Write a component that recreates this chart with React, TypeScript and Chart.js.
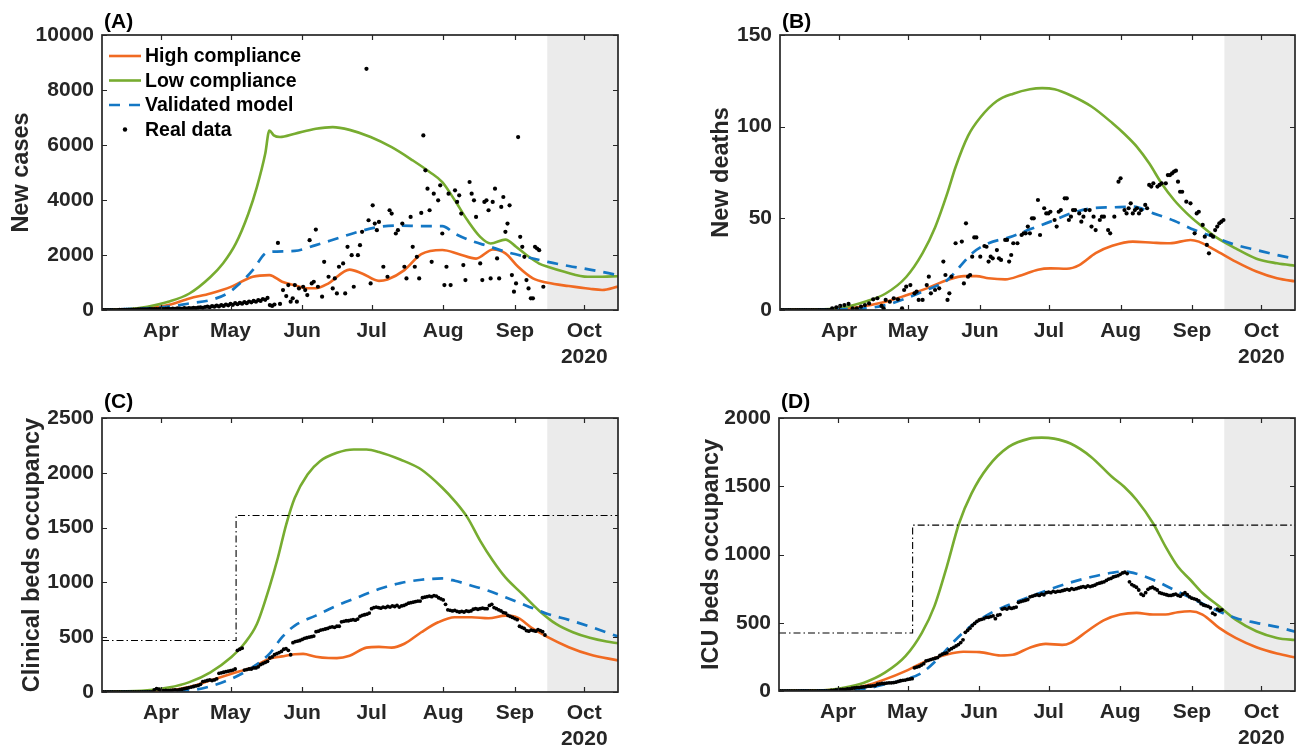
import React, { useEffect, useRef } from 'react';
import { Chart, registerables } from 'chart.js';

Chart.register(...registerables);

type Pair = [number, number];

// ---------------- shared axis data (x = days since 1 Mar 2020) ----------------
const xMinDay = 5.4;
const xMaxDay = 228.6;
const forecastStartDay = 198;
const monthTickDays = [31, 61, 92, 122, 153, 184, 214];
const monthTickLabels = ['Apr', 'May', 'Jun', 'Jul', 'Aug', 'Sep', 'Oct'];
const yearLabel = '2020';
const seriesNames = ['High compliance', 'Low compliance', 'Validated model', 'Real data'];
const panelLetters = ['(A)', '(B)', '(C)', '(D)'];
const yTitles = ['New cases', 'New deaths', 'Clinical beds occupancy', 'ICU beds occupancy'];
const yMaxima = [10000, 150, 2500, 2000];
const ySteps = [2000, 50, 500, 500];
const realDailyStartDay = 5;

// ---------------- (A) new cases ----------------
const casesHigh: Pair[] = [[5.5,0],[25,60],[34.1,180],[43.2,420],[52.3,600],[61.4,850],[70.6,1210],[77.8,1270],[83.3,1030],[88.8,900],[94.3,790],[97.9,790],[103.4,970],[112.5,1470],[117.9,1330],[125.2,1060],[128.9,1110],[136.2,1450],[143.5,2030],[152.6,2180],[159.9,2030],[167.2,1870],[174.5,2200],[179.9,2060],[185.4,1570],[191.8,1150],[198.2,990],[207.3,870],[216.4,770],[221.8,730],[228.6,850]];
const casesLow: Pair[] = [[5.5,0],[15.9,25],[25,120],[34.1,300],[43.2,600],[52.3,1200],[57.8,1700],[63.3,2420],[68.7,3500],[72.4,4470],[76,5680],[77.8,6530],[79.7,6350],[82.4,6290],[88.8,6410],[97.9,6590],[105.2,6650],[112.5,6550],[121.6,6290],[130.7,5920],[139.8,5440],[147.1,5020],[152.6,4650],[158,3990],[163.5,3260],[169,2660],[173.5,2420],[179.9,2560],[184.5,2300],[189,2000],[194.5,1690],[198.2,1570],[205.4,1390],[215.5,1210],[221.8,1210],[228.6,1230]];
const casesModel: Pair[] = [[5.5,0],[34.1,120],[43.2,240],[52.3,360],[59.6,600],[65.1,970],[70.6,1450],[76,2060],[78.8,2120],[88.8,2150],[97.9,2360],[107,2600],[116.1,2840],[125.2,3020],[134.4,3070],[143.5,3050],[152.6,3050],[158,2780],[165.3,2510],[172.6,2320],[179.9,2120],[189,1930],[198.2,1750],[207.3,1600],[216.4,1470],[228.6,1270]];
const casesRealEarly: number[] = [0,0,0,0,0,0,0,0,5,5,5,10,10,10,15,15,20,20,20,25,25,30,30,30,35,35,
  40,30,45,50,35,55,40,60,50,45,65,55,70,60,80,70,90,100,80,110,120,
  100,140,120,160,130,180,150,200,170,220,190,250,210,260,230,290,250,310,280,330,300,360,330,400,370,440,
  180,150,200];
const casesRealLate: Pair[] = [[81.5,2440],[82.4,220],[83.7,725],[85.1,508],[86,906],[87,302],[87.9,423],[88.8,906],[89.7,302],[90.6,786],[92.4,846],[93.3,725],[94.2,544],[95.2,2540],[96.1,967],[97,1028],[97.9,2926],[98.8,846],[100.6,484],[101.5,1753],[103.4,1209],[105.2,786],[106.1,1149],[107,604],[107.9,1572],[109.7,1693],[110.6,604],[111.6,2297],[113.4,1995],[114.3,846],[116.1,1995],[117,2358],[117.9,2842],[119.8,8770],[120.7,3264],[121.6,967],[122.5,3808],[123.4,3143],[124.3,2902],[125.2,3203],[127.1,1572],[128.9,1209],[129.8,3627],[130.7,3506],[132.5,2781],[133.4,2902],[135.3,3143],[136.2,1572],[137.1,1149],[138.9,3385],[139.8,2297],[140.7,1572],[141.6,1935],[142.6,1149],[143.5,3530],[144.4,6350],[145.3,5078],[146.2,4412],[147.1,3627],[148,1753],[148.9,4231],[150.8,3990],[151.7,4533],[152.6,2781],[153.5,907],[154.4,1572],[155.3,4231],[156.2,907],[158.1,4352],[159,3929],[159.9,4170],[160.8,3506],[161.7,1632],[162.6,1088],[164.4,4654],[165.3,4231],[166.3,3990],[167.2,3385],[169,1693],[169.9,1088],[170.8,3929],[171.7,3990],[172.6,3627],[173.5,1149],[174.4,3929],[175.4,4412],[176.3,1874],[177.2,1149],[178.1,3748],[179,4110],[179.9,2842],[180.8,3143],[181.7,3808],[182.7,1270],[183.6,665],[184.5,967],[185.4,6290],[186.3,2660],[187.2,2297],[188.1,1935],[189,1088],[189.9,786],[190.9,423],[191.8,423],[192.7,2297],[193.6,2237],[194.5,2176],[196.3,846]];

// ---------------- (B) new deaths ----------------
const deathsHigh: Pair[] = [[5.3,0],[33.3,0.7],[42.2,2.2],[51.2,4.5],[60.1,8],[69,11.8],[78,16.4],[85.1,18.5],[90.5,18.5],[95.8,17.3],[103,16.7],[110.1,19],[117.2,22],[122.6,22.7],[129.7,22.5],[135.1,24.5],[142.2,31],[149.4,35],[158.3,37.3],[167.2,36.7],[174.4,36.4],[183.3,38.2],[186.9,37.3],[194,32.7],[202.9,26.4],[211.9,21],[220.8,17.3],[229.4,15.5]];
const deathsLow: Pair[] = [[5.3,0],[24.4,0.4],[33.3,1.5],[42.2,4.5],[51.2,9],[60.1,18],[67.2,31],[72.6,45],[78,64],[81.5,78],[86.9,95],[92.2,105],[99.4,114],[106.5,118],[113.7,120.4],[119,121],[124.4,120.4],[131.5,117],[140.4,111],[149.4,102],[154.7,96],[160.1,89],[165.4,80],[170.8,69],[176.2,60],[181.5,53],[186.9,47],[194,40],[202.9,33.6],[211.9,28],[220.8,25.5],[229.4,24]];
const deathsModel: Pair[] = [[5.3,0],[42.2,0.9],[51.2,2.7],[60.1,6.4],[69,11],[78,16.4],[83.3,23.6],[88.7,31],[95.8,36.4],[104.7,39.6],[113.7,44],[122.6,48.2],[131.5,52.7],[140.4,55.5],[149.4,56],[158.3,56.4],[167.2,52.7],[176.2,48.7],[185.1,43.6],[194,39.6],[202.9,35.5],[211.9,32.7],[220.8,30],[229.4,27.8]];
const deathsRealEarly: number[] = [0,0,0,0,0,0,0,0,0,0,0,0,0,0,0,0,0,0,0,0,0,0,0];
const deathsRealLate: Pair[] = [[28,0.9],[29.8,1.5],[31.5,2.2],[33.3,2.7],[35.1,3.3],[36.9,0.9],[38.7,0.9],[40.5,1.8],[42.2,2.7],[44,3.6],[45.8,5.8],[47.6,6.4],[49.4,2.2],[50.3,0.9],[51.2,5.5],[53,4.5],[54.7,6.4],[56.5,5.8],[58.3,0.9],[59.2,10.9],[60.1,12.7],[61.9,13.6],[63.7,9.1],[64.6,10],[65.5,5.5],[67.2,5.5],[69,13.6],[69.9,18.2],[70.8,9.1],[72.6,10.9],[74.4,11.8],[76.2,26.4],[77.1,19.1],[78,5.5],[78.8,9.1],[79.7,18.2],[81.5,36.4],[84.2,37.3],[85.1,14.5],[86,47.3],[86.9,18.2],[87.8,19.1],[88.7,29.1],[89.6,39.6],[90.5,39.6],[92.2,29.1],[94,34.9],[94.9,34.5],[95.8,26.4],[96.7,29.1],[97.6,28.2],[99.4,32.7],[100.3,28.2],[101.2,27.3],[103,38.2],[103.8,38.2],[104.7,26.4],[105.6,30],[106.5,36.4],[108.3,36.4],[110.1,40.9],[111,41.8],[111.9,41.8],[112.8,45.5],[113.7,41.8],[114.6,50],[115.4,50],[117.2,60],[118.1,40.9],[119.9,55.5],[120.8,52.7],[121.7,52.7],[122.6,53.6],[124.4,49.1],[125.3,45.5],[126.2,53.6],[127.1,54.5],[128.8,60.9],[129.7,60.9],[130.6,49.1],[131.5,50.9],[132.4,54.5],[133.3,54.5],[135.1,52.7],[136,48.2],[136.9,50.9],[137.8,54.5],[139.6,54.5],[140.4,45.5],[141.3,50.9],[142.2,43.6],[144,49.1],[144.9,50.9],[145.8,50.9],[147.6,43.6],[148.5,41.8],[150.3,50.9],[152.1,70],[153,71.8],[154.7,54.5],[155.6,52.7],[156.5,55.5],[157.4,58.2],[158.3,52.7],[159.2,54.5],[160.1,55.5],[161,52.7],[161.9,54.5],[163.7,57.3],[164.5,55.5],[165.4,68.2],[166.3,67.3],[167.2,69.1],[169,67.3],[169.9,68.2],[170.8,69.1],[172.6,69.1],[173.5,73.6],[174.4,73.6],[175.3,74.5],[176.2,75.5],[177,76],[177.9,70],[178.8,64.5],[179.7,64.5],[181.5,59.1],[183.3,58.2],[185.1,41.8],[186,52.7],[186.9,53.6],[188.6,46.4],[189.5,40],[190.4,35.5],[191.3,30.9],[192.2,40.9],[193.1,40],[194,43.6],[194.9,45.5],[195.8,47.3],[196.7,48.2],[197.6,49.1]];

// ---------------- (C) clinical beds ----------------
const bedsHigh: Pair[] = [[5.5,0],[34.1,15],[43.2,45],[52.3,106],[61.4,167],[70.6,227],[77.8,303],[83.3,325],[88.8,345],[92.4,348],[97.9,322],[103.4,310],[107,309],[112.5,330],[119.8,405],[125.2,412],[130.7,405],[136.2,440],[143.5,545],[150.8,636],[158,682],[165.3,682],[172.6,673],[179.9,697],[185.4,676],[190.9,591],[198.2,500],[207.3,409],[216.4,342],[228.6,288]];
const bedsLow: Pair[] = [[5.5,0],[25,15],[34.1,40],[43.2,90],[52.3,180],[61.4,320],[66.9,440],[72.4,620],[77.8,955],[81.5,1227],[85.1,1530],[88.8,1773],[94.3,1985],[99.7,2106],[107,2182],[114.3,2212],[119.8,2212],[125.2,2190],[134.4,2121],[143.5,2030],[152.6,1864],[158,1742],[163.5,1591],[169,1379],[174.5,1197],[179.9,1045],[187.2,894],[194.5,742],[201.8,621],[209.1,545],[216.4,494],[223.7,460],[228.6,445]];
const bedsModel: Pair[] = [[5.5,0],[43.2,15],[52.3,52],[61.4,121],[70.6,227],[77.8,348],[83.3,500],[88.8,606],[97.9,697],[107,788],[116.1,864],[125.2,939],[134.4,994],[143.5,1024],[152.6,1036],[158,1015],[165.3,970],[172.6,924],[179.9,864],[189,788],[198.2,712],[207.3,658],[216.4,597],[228.6,506]];
const bedsCapacity: Pair[] = [[xMinDay,470],[63.4,470],[63.4,1610],[xMaxDay,1610]];
const bedsReal: number[] = [0,0,0,0,0,0,0,0,0,0,0,0,0,0,0,0,0,0,0,0,0,0,0,
  20,30,25,
  10,12,15,12,15,18,20,18,22,25,
  30,35,40,45,50,55,60,70,
  95,100,105,110,105,110,120,
  170,175,180,185,190,195,
  200,210,
  380,390,400,
  200,205,210,210,220,220,230,
  250,260,270,280,
  310,320,340,350,360,370,
  390,395,380,340,
  450,460,465,470,480,
  490,495,500,505,510,
  550,555,565,570,575,580,
  590,595,590,600,600,
  640,645,650,650,655,660,655,665,
  690,700,705,710,720,
  760,770,775,770,765,775,
  770,780,775,785,780,790,775,785,790,
  800,810,815,820,825,830,830,
  860,865,870,875,870,880,875,860,
  850,840,800,
  750,745,740,745,
  735,730,735,730,740,735,740,
  755,760,755,760,765,760,760,
  790,800,
  770,760,750,740,725,720,
  700,690,680,670,660,
  600,590,580,
  560,555,565,560,555,570,560,550,
  520];

// ---------------- (D) ICU beds ----------------
const icuHigh: Pair[] = [[5.3,0],[33.3,12],[42.2,36],[51.2,85],[60.1,146],[69,219],[78,268],[85.1,287],[92.2,285],[101.2,260],[106.5,265],[113.7,316],[120.8,345],[127.9,338],[131.5,353],[138.7,438],[145.8,518],[153,560],[160.1,572],[167.2,560],[172.6,560],[177.9,577],[183.3,584],[188.6,560],[195.8,462],[202.9,389],[211.9,321],[220.8,275],[229.4,243]];
const icuLow: Pair[] = [[5.3,0],[24.4,5],[33.3,24],[42.2,61],[51.2,134],[60.1,255],[67.2,426],[72.6,620],[78,912],[83.3,1229],[88.7,1448],[95.8,1642],[104.7,1788],[113.7,1849],[119,1856],[124.4,1849],[131.5,1813],[140.4,1715],[149.4,1569],[154.7,1496],[160.1,1399],[167.2,1229],[172.6,1058],[177.9,912],[183.3,815],[188.6,718],[195.8,620],[202.9,523],[211.9,438],[220.8,389],[229.4,372]];
const icuModel: Pair[] = [[5.3,0],[42.2,17],[51.2,49],[60.1,85],[67.2,134],[74.4,240],[81.5,370],[88.7,480],[95.8,560],[104.7,630],[113.7,690],[122.6,745],[131.5,795],[140.4,835],[149.4,866],[154.7,876],[160.1,859],[167.2,815],[176.2,742],[185.1,669],[194,596],[202.9,535],[211.9,499],[220.8,470],[229.4,431]];
const icuCapacity: Pair[] = [[xMinDay,425],[63.2,425],[63.2,1215],[xMaxDay,1215]];
const icuReal: number[] = [0,0,0,0,0,0,0,0,0,0,0,0,0,0,0,0,0,0,0,0,0,0,0,
  5,5,8,8,10,12,12,15,15,
  20,22,25,25,28,30,32,35,35,38,40,
  50,52,55,55,58,60,60,62,65,
  70,75,78,80,85,88,90,
  170,175,180,190,200,
  220,225,230,235,240,245,
  260,270,275,280,
  300,310,320,330,
  340,355,375,
  430,445,460,
  480,495,510,520,
  525,530,540,540,
  545,550,530,555,560,
  600,605,600,610,605,610,615,
  650,655,660,665,670,
  690,695,700,705,700,710,705,
  720,725,720,730,725,730,730,
  735,740,745,740,750,745,750,755,
  760,765,760,770,765,770,775,
  785,790,795,800,810,
  820,825,835,840,
  845,855,865,870,860,800,
  780,770,760,740,
  710,700,720,
  745,755,760,750,740,
  720,715,710,705,700,
  700,705,710,700,695,
  710,720,705,690,
  680,675,670,660,
  640,630,625,620,610,
  570,560,
  600,590,595];

// ---------------- styles ----------------
const FONT = '"Liberation Sans", Arial, Helvetica, sans-serif';
const colorHigh = '#F06A22';
const colorLow = '#77AC30';
const colorModel = '#1477C4';
const axisColor = '#262626';
const forecastFill = '#EBEBEB';

const layouts = [
  { left: 0, top: 0, width: 652, height: 376, yAxisW: 102, xAxisH: 66, padTop: 35, padRight: 34, titlePad: 7, labelUp: 13, legend: true },
  { left: 652, top: 0, width: 652, height: 376, yAxisW: 128, xAxisH: 66, padTop: 35, padRight: 9, titlePad: 55, labelUp: 13, legend: false },
  { left: 0, top: 376, width: 652, height: 371, yAxisW: 102, xAxisH: 55, padTop: 42, padRight: 34, titlePad: 18, labelUp: 16, legend: false },
  { left: 652, top: 376, width: 652, height: 371, yAxisW: 127, xAxisH: 56, padTop: 42, padRight: 9, titlePad: 45, labelUp: 16, legend: false },
];

const toXY = (pairs: Pair[]) => pairs.map(([x, y]) => ({ x, y }));
const dailyToXY = (start: number, vals: number[]) => vals.map((y, i) => ({ x: start + i, y }));

const panelSeries = [
  { high: casesHigh, low: casesLow, model: casesModel, real: [...dailyToXY(realDailyStartDay, casesRealEarly), ...toXY(casesRealLate)], cap: null as Pair[] | null, dot: 2.1 },
  { high: deathsHigh, low: deathsLow, model: deathsModel, real: [...dailyToXY(realDailyStartDay, deathsRealEarly), ...toXY(deathsRealLate)], cap: null as Pair[] | null, dot: 2.1 },
  { high: bedsHigh, low: bedsLow, model: bedsModel, real: dailyToXY(realDailyStartDay, bedsReal), cap: bedsCapacity, dot: 1.9 },
  { high: icuHigh, low: icuLow, model: icuModel, real: dailyToXY(realDailyStartDay, icuReal), cap: icuCapacity, dot: 1.9 },
];

const decorPlugin = {
  id: 'decor',
  beforeDatasetsDraw(chart: any) {
    const { ctx, chartArea: ca, scales } = chart;
    const gx = scales.x.getPixelForValue(forecastStartDay);
    ctx.save();
    ctx.fillStyle = forecastFill;
    ctx.fillRect(gx, ca.top, ca.right - gx, ca.bottom - ca.top);
    ctx.restore();
  },
  afterDatasetsDraw(chart: any, _a: any, opts: any) {
    const { ctx, chartArea: ca, scales } = chart;
    const x = scales.x, y = scales.y;
    ctx.save();
    ctx.strokeStyle = axisColor;
    ctx.lineWidth = 1.7;
    ctx.strokeRect(ca.left, ca.top, ca.right - ca.left, ca.bottom - ca.top);
    ctx.lineWidth = 1.2;
    ctx.beginPath();
    x.ticks.forEach((t: any) => {
      const px = Math.round(x.getPixelForValue(t.value)) + 0.5;
      ctx.moveTo(px, ca.bottom); ctx.lineTo(px, ca.bottom - 5);
      ctx.moveTo(px, ca.top); ctx.lineTo(px, ca.top + 5);
    });
    y.ticks.forEach((t: any) => {
      const py = Math.round(y.getPixelForValue(t.value)) + 0.5;
      ctx.moveTo(ca.left, py); ctx.lineTo(ca.left + 5, py);
      ctx.moveTo(ca.right, py); ctx.lineTo(ca.right - 5, py);
    });
    ctx.stroke();

    ctx.fillStyle = '#000';
    ctx.textAlign = 'left';
    ctx.textBaseline = 'middle';
    ctx.font = `bold 21px ${FONT}`;
    ctx.fillText(opts.letter, ca.left + 2, ca.top - opts.labelUp);

    if (opts.legend) {
      const x0 = ca.left + 7, x1 = ca.left + 39, tx = ca.left + 43;
      const rows = [ca.top + 21, ca.top + 45.5, ca.top + 70, ca.top + 94.5];
      ctx.lineWidth = 2.6;
      ctx.setLineDash([]);
      ctx.strokeStyle = colorHigh;
      ctx.beginPath(); ctx.moveTo(x0, rows[0]); ctx.lineTo(x1, rows[0]); ctx.stroke();
      ctx.strokeStyle = colorLow;
      ctx.beginPath(); ctx.moveTo(x0, rows[1]); ctx.lineTo(x1, rows[1]); ctx.stroke();
      ctx.strokeStyle = colorModel;
      ctx.setLineDash([11, 9]);
      ctx.beginPath(); ctx.moveTo(x0, rows[2]); ctx.lineTo(x1, rows[2]); ctx.stroke();
      ctx.setLineDash([]);
      ctx.fillStyle = '#000';
      ctx.beginPath(); ctx.arc((x0 + x1) / 2, rows[3], 2.2, 0, Math.PI * 2); ctx.fill();
      ctx.font = `bold 19.5px ${FONT}`;
      seriesNames.forEach((n, i) => ctx.fillText(n, tx, rows[i] + 1));
    }
    ctx.restore();
  },
};

function Panel({ idx }: { idx: number }) {
  const ref = useRef<HTMLCanvasElement>(null);
  const lay = layouts[idx];
  useEffect(() => {
    const s = panelSeries[idx];
    const datasets: any[] = [
      { label: seriesNames[3], data: s.real, showLine: false, pointRadius: s.dot, pointBackgroundColor: '#000', pointBorderWidth: 0, order: 0 },
      { label: seriesNames[2], data: toXY(s.model), showLine: true, borderColor: colorModel, borderWidth: 2.7, borderDash: [11, 8], pointRadius: 0, cubicInterpolationMode: 'monotone', order: 2 },
      { label: seriesNames[1], data: toXY(s.low), showLine: true, borderColor: colorLow, borderWidth: 2.6, pointRadius: 0, cubicInterpolationMode: 'monotone', order: 3 },
      { label: seriesNames[0], data: toXY(s.high), showLine: true, borderColor: colorHigh, borderWidth: 2.6, pointRadius: 0, cubicInterpolationMode: 'monotone', order: 4 },
    ];
    if (s.cap) {
      datasets.push({ label: 'capacity', data: toXY(s.cap), showLine: true, borderColor: '#000', borderWidth: 1.1, borderDash: [7, 3, 1.5, 3], pointRadius: 0, tension: 0, order: 1 });
    }
    const chart = new Chart(ref.current as HTMLCanvasElement, {
      type: 'scatter',
      data: { datasets },
      plugins: [decorPlugin as any],
      options: {
        animation: false,
        responsive: false,
        devicePixelRatio: 1,
        events: [],
        layout: { padding: { top: lay.padTop, right: lay.padRight, left: 0, bottom: 0 } },
        plugins: {
          legend: { display: false },
          tooltip: { enabled: false },
          decor: { letter: panelLetters[idx], labelUp: lay.labelUp, legend: lay.legend },
        } as any,
        scales: {
          x: {
            type: 'linear',
            min: xMinDay,
            max: xMaxDay,
            grid: { display: false, drawTicks: false },
            border: { display: false },
            afterBuildTicks: (sc: any) => { sc.ticks = monthTickDays.map((v) => ({ value: v })); },
            afterFit: (sc: any) => { sc.height = lay.xAxisH; },
            ticks: {
              autoSkip: false,
              maxRotation: 0,
              padding: 9,
              color: axisColor,
              font: { family: FONT, size: 21, weight: 'bold', lineHeight: 1.2 },
              callback: (v: any) => {
                const i = monthTickDays.indexOf(Number(v));
                const lab = monthTickLabels[i] ?? '';
                return i === monthTickDays.length - 1 ? [lab, yearLabel] : lab;
              },
            },
          },
          y: {
            type: 'linear',
            min: 0,
            max: yMaxima[idx],
            grid: { display: false, drawTicks: false },
            border: { display: false },
            afterFit: (sc: any) => { sc.width = lay.yAxisW; },
            ticks: {
              stepSize: ySteps[idx],
              padding: 8,
              color: axisColor,
              font: { family: FONT, size: 21, weight: 'bold' },
              callback: (v: any) => String(v),
            },
            title: {
              display: true,
              text: yTitles[idx],
              color: axisColor,
              font: { family: FONT, size: 23.5, weight: 'bold', lineHeight: 1.2 },
              padding: { top: lay.titlePad, bottom: 0 },
            },
          },
        },
      } as any,
    });
    return () => chart.destroy();
  }, [idx]);
  return (
    <canvas
      ref={ref}
      width={lay.width}
      height={lay.height}
      style={{ position: 'absolute', left: lay.left, top: lay.top, width: lay.width, height: lay.height }}
    />
  );
}

export default function App() {
  return (
    <div style={{ position: 'absolute', left: 0, top: 0, width: 1304, height: 747, background: '#fff' }}>
      {[0, 1, 2, 3].map((i) => <Panel key={i} idx={i} />)}
    </div>
  );
}
